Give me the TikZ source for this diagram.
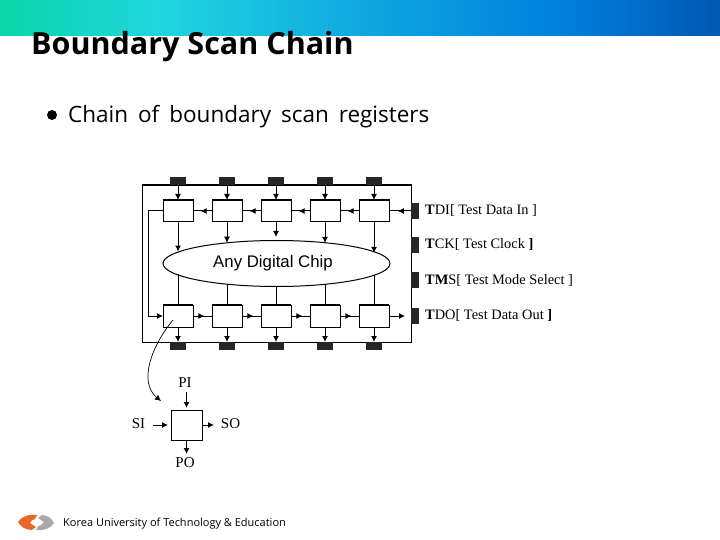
\documentclass[tikz,border=0pt]{standalone}
\usepackage{fontspec}
\setmainfont{Liberation Serif}
\setsansfont{Open Sans}
\newfontfamily\bodyfont[WordSpace=1.7]{Open Sans}
\newfontfamily\corefont{Liberation Sans}
\usetikzlibrary{arrows.meta,positioning,shapes.geometric,decorations.markings}
\definecolor{logoorange}{HTML}{E8672A}
\definecolor{logogray}{HTML}{A9A9AD}
\definecolor{barmint}{HTML}{0AD6A8}
\definecolor{barcyan}{HTML}{20D6DE}
\definecolor{barsky}{HTML}{10A8E0}
\definecolor{barblue}{HTML}{0080DC}
\definecolor{barnavy}{HTML}{0058B0}
\pgfdeclarehorizontalshading{headerbar}{100bp}{
  color(0bp)=(barmint); color(25bp)=(barmint); color(36bp)=(barcyan); color(50bp)=(barsky);
  color(64bp)=(barblue); color(75bp)=(barnavy); color(100bp)=(barnavy)}
\tikzset{
  regbox/.style={
    rectangle, draw=black, fill=white, line width=1pt, outer sep=0pt,
    minimum width=30pt, minimum height=22pt
  },
  pinbox/.style={
    rectangle, fill=black!85, outer sep=0pt, inner sep=0pt,
    minimum width=16pt, minimum height=8pt
  },
  padbox/.style={
    rectangle, fill=black!85, outer sep=0pt, inner sep=0pt,
    minimum width=8pt, minimum height=16pt
  },
  padlabel/.style={
    font=\fontsize{14.4}{17}\selectfont, anchor=west, inner sep=0pt
  },
  celllabel/.style={
    font=\fontsize{15}{17}\selectfont, inner sep=0pt
  },
  dataarrow/.style={
    -{Latex[length=6pt,width=6pt]}, line width=1pt
  },
  midarrow/.style={
    line width=1pt, postaction={decorate, decoration={markings,
      mark=at position 0.6 with {\arrow{Latex[length=6pt,width=6pt]}}}}
  },
  plainline/.style={line width=1pt},
  thicktop/.style={line width=2pt},
}
\begin{document}
\begin{tikzpicture}[x=1pt,y=-1pt]
\useasboundingbox (0,0) rectangle (720,540);

% Header and slide text
\node[rectangle, minimum width=720pt, minimum height=36pt, inner sep=0pt, outer sep=0pt,
  shading=headerbar, shading angle=0] (header) at (360,18) {};
\node[anchor=base west, inner sep=0pt, font=\sffamily\bfseries\fontsize{30.5}{34}\selectfont] (title) at (31,55) {Boundary Scan Chain};
\node[circle, fill=black, inner sep=0pt, minimum size=10pt] (bullet) at (52,115) {};
\node[anchor=base west, inner sep=0pt, font=\bodyfont\fontsize{22.5}{26}\selectfont] (bodyline) at (68,123) {Chain of boundary scan registers};
\node[anchor=base west, inner sep=0pt, font=\sffamily\fontsize{11}{13}\selectfont] (footer) at (63,526) {Korea University of Technology \& Education};

% Logo
\fill[logoorange] (18,522) .. controls (21,517) and (28,514) .. (37,515) -- (35,519) .. controls (33,519) and (31,521) .. (30,523) -- (36,527) -- (32,530) .. controls (25,530) and (20,526) .. (18,522) -- cycle;
\fill[logogray] (54,523) .. controls (51,528) and (44,531) .. (36,530) -- (38,526) .. controls (40,526) and (43,524) .. (44,522) -- (38,518) -- (42,515) .. controls (48,515) and (52,519) .. (54,523) -- cycle;

% Frame and core
\node[rectangle, draw=black, line width=1pt, outer sep=0pt, minimum width=269pt, minimum height=157pt] (frame) at (276.5,263.5) {};
\draw[thicktop] (frame.north west) -- (frame.north east);
\node[ellipse, draw=black, line width=1pt, outer sep=0pt, inner sep=0pt, minimum width=227pt, minimum height=46pt, font=\corefont\fontsize{16.8}{19}\selectfont] (core) at (276.5,263.5) {Any Digital Chip\hspace{7pt}\null};

% Top row of registers
\node[regbox] (top1) at (178,211) {};
\node[regbox, right=19pt of top1] (top2) {};
\node[regbox, right=19pt of top2] (top3) {};
\node[regbox, right=19pt of top3] (top4) {};
\node[regbox, right=19pt of top4] (top5) {};

% Bottom row of registers
\node[regbox] (bot1) at (178,316) {};
\node[regbox, right=19pt of bot1] (bot2) {};
\node[regbox, right=19pt of bot2] (bot3) {};
\node[regbox, right=19pt of bot3] (bot4) {};
\node[regbox, right=19pt of bot4] (bot5) {};

% Pins on the frame
\node[pinbox, anchor=south] (pin1) at (frame.north -| top1) {};
\node[pinbox, anchor=south] (pin2) at (frame.north -| top2) {};
\node[pinbox, anchor=south] (pin3) at (frame.north -| top3) {};
\node[pinbox, anchor=south] (pin4) at (frame.north -| top4) {};
\node[pinbox, anchor=south] (pin5) at (frame.north -| top5) {};
\node[pinbox, anchor=north] (pout1) at (frame.south -| bot1) {};
\node[pinbox, anchor=north] (pout2) at (frame.south -| bot2) {};
\node[pinbox, anchor=north] (pout3) at (frame.south -| bot3) {};
\node[pinbox, anchor=north] (pout4) at (frame.south -| bot4) {};
\node[pinbox, anchor=north] (pout5) at (frame.south -| bot5) {};

% Test port pads
\node[padbox, anchor=west] (tdi) at (411,211) {};
\node[padbox, anchor=west] (tck) at (411,244.5) {};
\node[padbox, anchor=west] (tms) at (411,280) {};
\node[padbox, anchor=west] (tdo) at (411,316) {};
\node[padlabel] (tdilabel) at (425,210.5) {\textbf{T}DI[ Test Data In ]};
\node[padlabel] (tcklabel) at (425,244.5) {\textbf{T}CK[ Test Clock \textbf{]}};
\node[padlabel] (tmslabel) at (425,280.5) {\textbf{TM}S[ Test Mode Select ]};
\node[padlabel] (tdolabel) at (425,315.5) {\textbf{T}DO[ Test Data Out \textbf{]}};

% Pins into the top row
\draw[dataarrow] (frame.north -| top1) -- (top1.north);
\draw[dataarrow] (frame.north -| top2) -- (top2.north);
\draw[dataarrow] (frame.north -| top3) -- (top3.north);
\draw[dataarrow] (frame.north -| top4) -- (top4.north);
\draw[dataarrow] (frame.north -| top5) -- (top5.north);

% Shift path along the top row
\draw[midarrow] (tdi.west) -- (top5.east);
\draw[midarrow] (top5.west) -- (top4.east);
\draw[midarrow] (top4.west) -- (top3.east);
\draw[midarrow] (top3.west) -- (top2.east);
\draw[midarrow] (top2.west) -- (top1.east);

% Top row into the core
\coordinate (gap3) at (276,237);
\draw[dataarrow] (top1.south) -- (top1.south |- core.173.4);
\draw[dataarrow] (top2.south) -- (top2.south |- core.157.1);
\draw[dataarrow] (top3.south) -- (gap3);
\draw[dataarrow] (top4.south) -- (top4.south |- core.22.9);
\draw[dataarrow] (top5.south) -- (top5.south |- core.6.6);

% Core down to the bottom row
\draw[plainline] (bot1.north |- core.186.6) -- (bot1.north);
\draw[plainline] (bot2.north |- core.202.9) -- (bot2.north);
\draw[plainline] (bot3.north |- core.south) -- (bot3.north);
\draw[plainline] (bot4.north |- core.337.1) -- (bot4.north);
\draw[plainline] (bot5.north |- core.353.4) -- (bot5.north);

% Shift path along the bottom row
\draw[dataarrow] (top1.west) -- ++(-15,0) |- (bot1.west);
\draw[midarrow] (bot1.east) -- (bot2.west);
\draw[midarrow] (bot2.east) -- (bot3.west);
\draw[midarrow] (bot3.east) -- (bot4.west);
\draw[midarrow] (bot4.east) -- (bot5.west);
\coordinate (tdoend) at (405,316);
\draw[dataarrow] (bot5.east) -- (tdoend);

% Bottom row out to the pins
\draw[dataarrow] (bot1.south) -- (frame.south -| bot1);
\draw[dataarrow] (bot2.south) -- (frame.south -| bot2);
\draw[dataarrow] (bot3.south) -- (frame.south -| bot3);
\draw[dataarrow] (bot4.south) -- (frame.south -| bot4);
\draw[dataarrow] (bot5.south) -- (frame.south -| bot5);

% Thick upper edges of the registers
\draw[thicktop] (top1.north west) -- (top1.north east);
\draw[thicktop] (top2.north west) -- (top2.north east);
\draw[thicktop] (top3.north west) -- (top3.north east);
\draw[thicktop] (top4.north west) -- (top4.north east);
\draw[thicktop] (top5.north west) -- (top5.north east);
\draw[thicktop] (bot1.north west) -- (bot1.north east);
\draw[thicktop] (bot2.north west) -- (bot2.north east);
\draw[thicktop] (bot3.north west) -- (bot3.north east);
\draw[thicktop] (bot4.north west) -- (bot4.north east);
\draw[thicktop] (bot5.north west) -- (bot5.north east);

% Single cell below
\node[regbox, minimum width=31pt, minimum height=30pt] (cell) at (186.5,425) {};
\node[celllabel] (pilabel) at (185,383) {PI};
\node[celllabel] (silabel) at (138.5,424) {SI};
\node[celllabel] (solabel) at (230.5,424) {SO};
\node[celllabel] (polabel) at (185,463) {PO};
\coordinate (pistart) at (186.5,392);
\coordinate (piend) at (186.5,408);
\coordinate (sistart) at (153,425);
\coordinate (siend) at (168,425);
\coordinate (soend) at (214,425);
\coordinate (poend) at (186.5,454);
\draw[dataarrow] (pistart) -- (piend);
\draw[dataarrow] (sistart) -- (siend);
\draw[dataarrow] (cell.east) -- (soend);
\draw[dataarrow] (cell.south) -- (poend);

% Callout from the first bottom register
\coordinate (calloutstart) at (173,320);
\coordinate (calloutend) at (161,401);
\draw[dataarrow, line width=0.7pt] (calloutstart) .. controls (152,345) and (138,382) .. (calloutend);

\end{tikzpicture}
\end{document}
